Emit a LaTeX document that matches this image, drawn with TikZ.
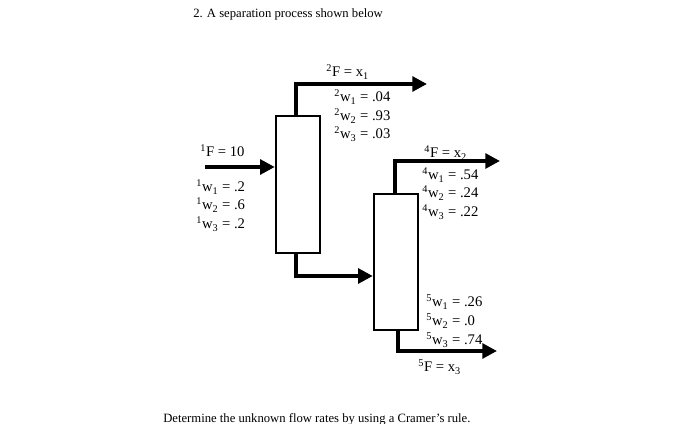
\documentclass[tikz,border=0pt]{standalone}
\usepackage{fontspec}
\setmainfont{Liberation Serif}
\usetikzlibrary{arrows.meta}
\newcommand{\myup}[1]{\textsuperscript{#1}}
\newcommand{\mydn}[1]{\textsubscript{#1}}
\begin{document}
\begin{tikzpicture}[x=0.75pt,y=-0.75pt,
  unit/.style={draw,line width=1.8pt,minimum width=44*0.75pt,inner sep=0pt},
  flow/.style={line width=3pt,-{Triangle[length=11pt,width=11pt]}},
  lab/.style={anchor=west,inner sep=0pt,font=\fontsize{11}{11}\selectfont},
  captxt/.style={anchor=west,inner sep=0pt,font=\rmfamily\fontsize{9.5}{10}\selectfont}]
\useasboundingbox (0,0) rectangle (700,424);
\node[unit,minimum height=137*0.75pt] (c1) at (298,184.5) {};
\node[unit,minimum height=136*0.75pt] (c2) at (396,262) {};
\coordinate (in) at (205,167);
\coordinate (t1) at (296,84);
\coordinate (o2) at (427,84);
\coordinate (b1) at (296,276);
\coordinate (t2) at (395,161);
\coordinate (o4) at (500,161);
\coordinate (b2) at (398,351);
\coordinate (o5) at (497,351);
\draw[flow] (in) -- (c1.west |- in);
\draw[flow] (c1.north -| t1) -- (t1) -- (o2);
\draw[flow] (c1.south -| b1) -- (b1) -- (c2.west |- b1);
\draw[flow] (c2.north -| t2) -- (t2) -- (o4);
\draw[flow] (c2.south -| b2) -- (b2) -- (o5);
\node[captxt] (q) at (193,14) {2. A separation process shown below};
\node[captxt] (d) at (163,419) {Determine the unknown flow rates by using a Cramer's rule.};
\node[lab] (f1) at (200,151) {\myup{1}F = 10};
\node[lab] (a1) at (196,187) {\myup{1}w\mydn{1} = .2};
\node[lab] (a2) at (196,205) {\myup{1}w\mydn{2} = .6};
\node[lab] (a3) at (196,224) {\myup{1}w\mydn{3} = .2};
\node[lab] (f2) at (326,72) {\myup{2}F = x\mydn{1}};
\node[lab] (b1l) at (334,97) {\myup{2}w\mydn{1} = .04};
\node[lab] (b2l) at (334,116) {\myup{2}w\mydn{2} = .93};
\node[lab] (b3l) at (334,134) {\myup{2}w\mydn{3} = .03};
\node[lab] (f4) at (424,153) {\myup{4}F = x\mydn{2}};
\node[lab] (c1l) at (422,175) {\myup{4}w\mydn{1} = .54};
\node[lab] (c2l) at (422,193) {\myup{4}w\mydn{2} = .24};
\node[lab] (c3l) at (422,212) {\myup{4}w\mydn{3} = .22};
\node[lab] (d1l) at (426,302) {\myup{5}w\mydn{1} = .26};
\node[lab] (d2l) at (426,321) {\myup{5}w\mydn{2} = .0};
\node[lab] (d3l) at (426,340) {\myup{5}w\mydn{3} = .74};
\node[lab] (f5) at (418,367) {\myup{5}F = x\mydn{3}};
\end{tikzpicture}
\end{document}
